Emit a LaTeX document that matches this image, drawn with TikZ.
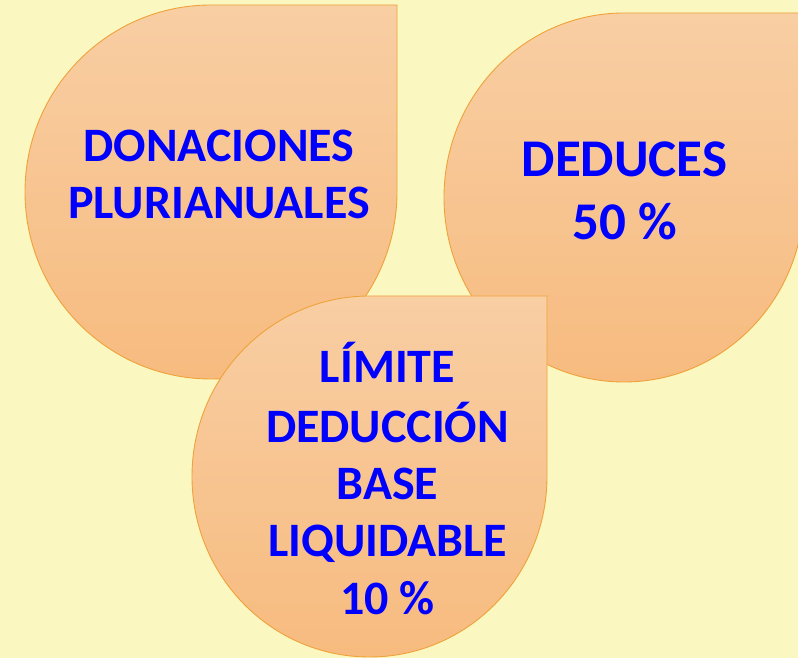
\documentclass[tikz,border=0pt]{standalone}
\usepackage{fontspec}
\setmainfont{Carlito}
\definecolor{bgc}{RGB}{250,247,193}
\definecolor{droptop}{RGB}{248,206,163}
\definecolor{dropbot}{RGB}{247,187,127}
\definecolor{dropline}{RGB}{240,162,58}
\definecolor{txtblue}{RGB}{0,0,255}
\begin{document}
\begin{tikzpicture}[x=1pt,y=1pt,
  drop/.style={draw=dropline,line width=0.9pt,top color=droptop,bottom color=dropbot},
  lbl/.style={anchor=base,inner sep=0pt,text=txtblue,font=\bfseries\fontsize{48}{58}\selectfont},
  lblbig/.style={lbl,font=\bfseries\fontsize{53}{64}\selectfont}]
\useasboundingbox (0,0) rectangle (798,658);
\clip (0,0) rectangle (798,658);
\fill[bgc] (0,0) rectangle (798,658);
% shape 1
\path[drop] (211,653) -- (397,653) -- (397,466)
  arc[start angle=0,end angle=-270,x radius=186,y radius=187] -- cycle;
% shape 2
\path[drop] (624,645) -- (804,645) -- (804,460.5)
  arc[start angle=0,end angle=-270,x radius=180,y radius=184.5] -- cycle;
% shape 3
\path[drop] (369.5,362) -- (547,362) -- (547,181.5)
  arc[start angle=0,end angle=-270,x radius=177.5,y radius=180.5] -- cycle;
% texts
\node[lbl] (t1a) at (219,496) {DONACIONES};
\node[lbl] (t1b) at (219,439) {PLURIANUALES};
\node[lblbig] (t2a) at (624.5,481) {DEDUCES};
\node[lblbig] (t2b) at (624.5,418) {50 \%};
\node[lbl] (t3a) at (387.5,275) {LÍMITE};
\node[lbl] (t3b) at (387.5,215) {DEDUCCIÓN};
\node[lbl] (t3c) at (387.5,158) {BASE};
\node[lbl] (t3d) at (387.5,101) {LIQUIDABLE};
\node[lbl] (t3e) at (387.5,43) {10 \%};
\end{tikzpicture}
\end{document}
